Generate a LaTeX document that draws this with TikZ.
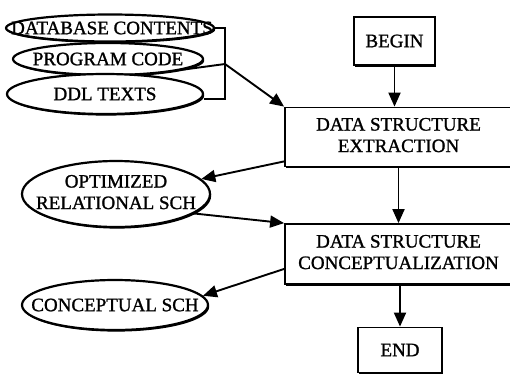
\documentclass[tikz,border=0pt]{standalone}
\usepackage{fontspec}
\setmainfont{Liberation Serif}
\newfontfamily\scanfont{Liberation Serif}[FakeBold=1.2]
\usetikzlibrary{shapes.geometric,arrows.meta,shadows}
\begin{document}
\begin{tikzpicture}[x=1pt,y=-1pt,
  every node/.style={font=\scanfont\fontsize{19}{21.5}\selectfont},
  heavy/.style={drop shadow={shadow xshift=1.2pt, shadow yshift=-1.6pt, opacity=1, fill=black}},
  oval/.style={ellipse, draw, line width=2.2pt, fill=white, inner sep=0pt, heavy},
  stepbox/.style={rectangle, draw, line width=1.8pt, fill=white, inner sep=0pt, heavy},
  link/.style={line width=1.9pt},
  arr/.style={link, -{Triangle[length=14pt,width=12pt]}}]
\clip (0,0) rectangle (510,376);

% source documents, stacked
\node[oval, minimum width=208, minimum height=27] (db) at (110,28)
  {\makebox[0pt]{\hspace{4pt}DATABASE CONTENTS}};
\node[oval, minimum width=190, minimum height=32] (prog) at (108,59)
  {\makebox[0pt]{PROGRAM CODE}};
\node[oval, minimum width=196, minimum height=40] (ddl) at (105,94)
  {\makebox[0pt]{DDL TEXTS}};

% intermediate and final schemas
\node[oval, minimum width=188, minimum height=66] (opt) at (116,194)
  {\makebox[0pt]{\begin{tabular}{@{}c@{}}OPTIMIZED\\RELATIONAL SCH\end{tabular}}};
\node[oval, minimum width=186, minimum height=50] (csch) at (115,305)
  {\makebox[0pt]{CONCEPTUAL SCH}};

% process steps
\node[stepbox, minimum width=81, minimum height=48] (begin) at (394.5,41) {BEGIN};
\node[stepbox, minimum width=227, minimum height=59] (extract) at (398.5,137)
  {\begin{tabular}{@{}c@{}}DATA STRUCTURE\\EXTRACTION\end{tabular}};
\node[stepbox, minimum width=227, minimum height=60] (concept) at (398.5,254)
  {\begin{tabular}{@{}c@{}}DATA STRUCTURE\\CONCEPTUALIZATION\end{tabular}};
\node[stepbox, minimum width=84, minimum height=45] (end) at (400,350) {END};

% bracket joining the three sources
\coordinate (jm) at (225,64);
\coordinate (jb) at (225,99);
\draw[link] (db.east) -| (jb) -- (ddl.east |- jb);
\draw[link] (prog.-8) -- (jm);
\draw[arr] (jm) -- (extract.north west);

% main flow
\draw[arr] (begin.south) -- (begin.south |- extract.north);
\draw[arr] (extract.south) -- (extract.south |- concept.north);
\draw[arr] (end.north |- concept.south) -- (end.north);

% schema inputs and outputs
\draw[arr] ([yshift=6pt]extract.south west) -- (opt.10);
\draw[arr] (opt.-14) -- (concept.north west);
\draw[arr] ([yshift=16pt]concept.south west) -- (csch.6);
\end{tikzpicture}
\end{document}
